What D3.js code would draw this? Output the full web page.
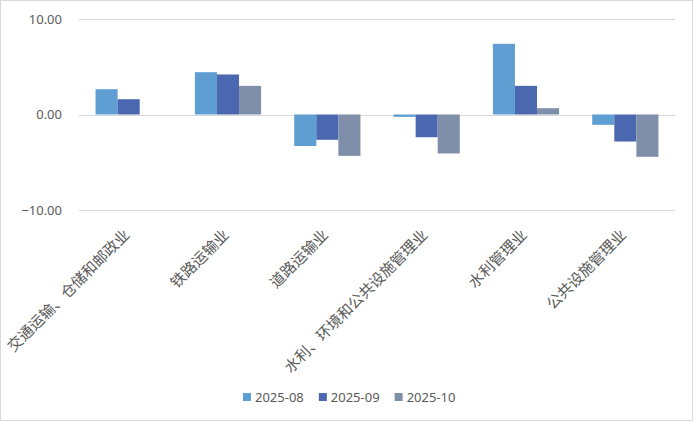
<!DOCTYPE html>
<html>
<head>
<meta charset="utf-8">
<script src="https://cdn.jsdelivr.net/npm/d3@7"></script>
<style>
  body { margin: 0; background: #fff; }
  svg { display: block; }
</style>
</head>
<body>
<svg id="chart" width="694" height="422"></svg>
<script>
// data
const categories = ["交通运输、仓储和邮政业", "铁路运输业", "道路运输业", "水利、环境和公共设施管理业", "水利管理业", "公共设施管理业"];
const seriesNames = ["2025-08", "2025-09", "2025-10"];
const values0825 = [2.65, 4.43, -3.3, -0.25, 7.4, -1.08];
const values0925 = [1.6, 4.19, -2.65, -2.38, 3.0, -2.83];
const values1025 = [null, 3.0, -4.33, -4.08, 0.66, -4.43];
const yTicks = [-10, 0, 10];
const colors = ["#5f9ed3", "#4a67b0", "#7f8fa9"];

const seriesValues = [values0825, values0925, values1025];
const rows = categories.map((c, i) => ({
  category: c,
  values: seriesNames.map((s, j) => ({ key: s, value: seriesValues[j][i] }))
}));

const W = 694, H = 422;
const plot = { left: 79, right: 675, top: 19, bottom: 210 };
const svg = d3.select("#chart");

// chart border
svg.append("rect")
  .attr("x", 0.5).attr("y", 0.5)
  .attr("width", W - 2).attr("height", H - 2)
  .attr("fill", "#fff").attr("stroke", "#d9d9d9");

const x0 = d3.scaleBand()
  .domain(categories)
  .range([plot.left, plot.right])
  .paddingInner(1 / 3)
  .paddingOuter(1 / 6);
const x1 = d3.scaleBand()
  .domain(seriesNames)
  .range([0, x0.bandwidth()]);
const y = d3.scaleLinear()
  .domain([-10, 10])
  .range([plot.bottom, plot.top]);
const color = d3.scaleOrdinal().domain(seriesNames).range(colors);

// gridlines
svg.append("g")
  .selectAll("line")
  .data(yTicks)
  .enter()
  .append("line")
  .attr("x1", plot.left).attr("x2", plot.right)
  .attr("y1", d => Math.round(y(d)) + 0.5)
  .attr("y2", d => Math.round(y(d)) + 0.5)
  .attr("stroke", "#d9d9d9")
  .attr("stroke-width", 1);

// y axis labels
const yAxis = d3.axisLeft(y)
  .tickValues(yTicks)
  .tickFormat(d3.format(".2f"))
  .tickSize(0)
  .tickPadding(17);
const yg = svg.append("g")
  .attr("transform", `translate(${plot.left},0)`)
  .call(yAxis);
yg.select(".domain").remove();
yg.selectAll("text")
  .attr("fill", "#595959")
  .style("font-family", "'Noto Sans', sans-serif")
  .style("font-size", "13px");

// bars
svg.append("g")
  .selectAll("g")
  .data(rows)
  .enter()
  .append("g")
  .attr("transform", d => `translate(${x0(d.category)},0)`)
  .selectAll("rect")
  .data(d => d.values.filter(v => v.value !== null))
  .enter()
  .append("rect")
  .attr("x", d => x1(d.key))
  .attr("width", x1.bandwidth())
  .attr("y", d => y(Math.max(0, d.value)))
  .attr("height", d => Math.abs(y(d.value) - y(0)))
  .attr("fill", d => color(d.key));

// category labels, rotated
svg.append("g")
  .selectAll("text")
  .data(categories)
  .enter()
  .append("text")
  .attr("transform", d => `translate(${x0(d) + x0.bandwidth() / 2 - 1},233) rotate(-45)`)
  .attr("text-anchor", "end")
  .attr("dominant-baseline", "middle")
  .attr("fill", "#595959")
  .style("font-family", "'Noto Sans CJK SC', sans-serif")
  .style("font-size", "15px")
  .text(d => d);

// legend
const legend = svg.append("g").attr("transform", "translate(243,397)");
let lx = 0;
seriesNames.forEach(s => {
  const item = legend.append("g").attr("transform", `translate(${lx},0)`);
  item.append("rect")
    .attr("x", 0).attr("y", -4)
    .attr("width", 8).attr("height", 8)
    .attr("fill", color(s));
  const t = item.append("text")
    .attr("x", 12)
    .attr("y", 0)
    .attr("dominant-baseline", "central")
    .attr("fill", "#595959")
    .style("font-family", "'Noto Sans', sans-serif")
    .style("font-size", "13px")
    .text(s);
  lx += 12 + t.node().getComputedTextLength() + 15;
});
</script>
</body>
</html>
